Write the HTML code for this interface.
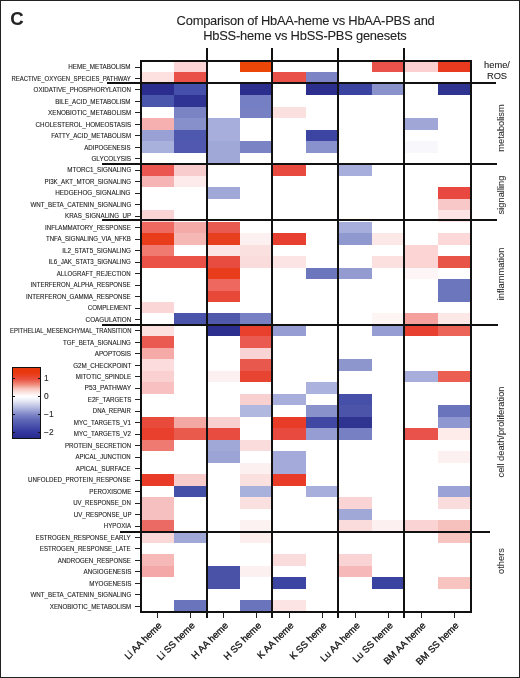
<!DOCTYPE html><html><head><meta charset="utf-8"><style>
html,body{margin:0;padding:0;background:#fff;}
body{width:520px;height:678px;position:relative;overflow:hidden;font-family:"Liberation Sans",sans-serif;color:#222;}
.a{position:absolute;}
.c{position:absolute;}
.l{position:absolute;background:#111;}
.rl{position:absolute;right:389.00px;font-size:6.30px;line-height:6.30px;white-space:nowrap;text-align:right;letter-spacing:0.000px;transform-origin:100% 50%;}
.u{letter-spacing:0.000px;}
.rl,.tx,.sl,.cl{filter:grayscale(1);}
.rl,.sl,.cl,.tx{-webkit-text-stroke:0.10px #222;}
.cl{-webkit-text-stroke:0.30px #111;color:#111}
.sl{-webkit-text-stroke:0.05px #2a2a2a;color:#2a2a2a}
.sl{position:absolute;font-size:9.30px;white-space:nowrap;line-height:1;}
.cl{position:absolute;font-size:9.50px;white-space:nowrap;line-height:1;transform-origin:100% 50%;transform:rotate(-45deg);}
</style></head><body>
<div class="a" style="left:0;top:0;width:518px;height:676px;border:1px solid #222;"></div>
<div class="a tx" style="left:10.30px;top:9.80px;font-size:18.50px;font-weight:bold;line-height:1;">C</div>
<div class="a tx" style="left:176.60px;top:14.60px;font-size:12.90px;line-height:1;letter-spacing:-0.220px;white-space:nowrap">Comparison of HbAA-heme vs HbAA-PBS and</div>
<div class="a tx" style="left:203.20px;top:30.20px;font-size:12.90px;line-height:1;letter-spacing:-0.220px;white-space:nowrap">HbSS-heme vs HbSS-PBS genesets</div>
<div class="c" style="left:174.03px;top:61.00px;width:33.05px;height:11.49px;background:#fcd6d6"></div>
<div class="c" style="left:240.09px;top:61.00px;width:33.05px;height:11.49px;background:#ec4608"></div>
<div class="c" style="left:372.21px;top:61.00px;width:33.05px;height:11.49px;background:#e9524a"></div>
<div class="c" style="left:405.24px;top:61.00px;width:33.05px;height:11.49px;background:#fcd0d0"></div>
<div class="c" style="left:438.27px;top:61.00px;width:33.05px;height:11.49px;background:#e83a1e"></div>
<div class="c" style="left:141.00px;top:72.47px;width:33.05px;height:11.49px;background:#fde0e0"></div>
<div class="c" style="left:174.03px;top:72.47px;width:33.05px;height:11.49px;background:#e85048"></div>
<div class="c" style="left:273.12px;top:72.47px;width:33.05px;height:11.49px;background:#e85048"></div>
<div class="c" style="left:306.15px;top:72.47px;width:33.05px;height:11.49px;background:#7c84c6"></div>
<div class="c" style="left:141.00px;top:83.95px;width:33.05px;height:11.49px;background:#2a2d8e"></div>
<div class="c" style="left:174.03px;top:83.95px;width:33.05px;height:11.49px;background:#4450aa"></div>
<div class="c" style="left:240.09px;top:83.95px;width:33.05px;height:11.49px;background:#2b2e8c"></div>
<div class="c" style="left:306.15px;top:83.95px;width:33.05px;height:11.49px;background:#2c2f8e"></div>
<div class="c" style="left:339.18px;top:83.95px;width:33.05px;height:11.49px;background:#3a44a0"></div>
<div class="c" style="left:372.21px;top:83.95px;width:33.05px;height:11.49px;background:#8a92cc"></div>
<div class="c" style="left:438.27px;top:83.95px;width:33.05px;height:11.49px;background:#2e3490"></div>
<div class="c" style="left:141.00px;top:95.42px;width:33.05px;height:11.49px;background:#4a55ac"></div>
<div class="c" style="left:174.03px;top:95.42px;width:33.05px;height:11.49px;background:#2f3494"></div>
<div class="c" style="left:240.09px;top:95.42px;width:33.05px;height:11.49px;background:#7580c4"></div>
<div class="c" style="left:174.03px;top:106.90px;width:33.05px;height:11.49px;background:#7a84c4"></div>
<div class="c" style="left:240.09px;top:106.90px;width:33.05px;height:11.49px;background:#7680c2"></div>
<div class="c" style="left:273.12px;top:106.90px;width:33.05px;height:11.49px;background:#fbe0e0"></div>
<div class="c" style="left:141.00px;top:118.38px;width:33.05px;height:11.49px;background:#f6b0b0"></div>
<div class="c" style="left:174.03px;top:118.38px;width:33.05px;height:11.49px;background:#8890cc"></div>
<div class="c" style="left:207.06px;top:118.38px;width:33.05px;height:11.49px;background:#a8aedc"></div>
<div class="c" style="left:405.24px;top:118.38px;width:33.05px;height:11.49px;background:#a0a6d6"></div>
<div class="c" style="left:141.00px;top:129.85px;width:33.05px;height:11.49px;background:#98a0d4"></div>
<div class="c" style="left:174.03px;top:129.85px;width:33.05px;height:11.49px;background:#4e58ae"></div>
<div class="c" style="left:207.06px;top:129.85px;width:33.05px;height:11.49px;background:#a8aedc"></div>
<div class="c" style="left:306.15px;top:129.85px;width:33.05px;height:11.49px;background:#3c46a2"></div>
<div class="c" style="left:141.00px;top:141.32px;width:33.05px;height:11.49px;background:#a8b0dc"></div>
<div class="c" style="left:174.03px;top:141.32px;width:33.05px;height:11.49px;background:#5058b0"></div>
<div class="c" style="left:207.06px;top:141.32px;width:33.05px;height:11.49px;background:#a0a8d8"></div>
<div class="c" style="left:240.09px;top:141.32px;width:33.05px;height:11.49px;background:#7a84c4"></div>
<div class="c" style="left:306.15px;top:141.32px;width:33.05px;height:11.49px;background:#8a92ce"></div>
<div class="c" style="left:405.24px;top:141.32px;width:33.05px;height:11.49px;background:#f8f8fc"></div>
<div class="c" style="left:207.06px;top:152.80px;width:33.05px;height:11.49px;background:#a0a8d8"></div>
<div class="c" style="left:141.00px;top:164.27px;width:33.05px;height:11.49px;background:#ec5650"></div>
<div class="c" style="left:174.03px;top:164.27px;width:33.05px;height:11.49px;background:#f8cccc"></div>
<div class="c" style="left:273.12px;top:164.27px;width:33.05px;height:11.49px;background:#e84a40"></div>
<div class="c" style="left:339.18px;top:164.27px;width:33.05px;height:11.49px;background:#a8aedc"></div>
<div class="c" style="left:141.00px;top:175.75px;width:33.05px;height:11.49px;background:#f6b4b4"></div>
<div class="c" style="left:174.03px;top:175.75px;width:33.05px;height:11.49px;background:#fdeaea"></div>
<div class="c" style="left:207.06px;top:187.22px;width:33.05px;height:11.49px;background:#a0a8d8"></div>
<div class="c" style="left:438.27px;top:187.22px;width:33.05px;height:11.49px;background:#e84840"></div>
<div class="c" style="left:438.27px;top:198.70px;width:33.05px;height:11.49px;background:#f8c8c8"></div>
<div class="c" style="left:141.00px;top:210.17px;width:33.05px;height:11.49px;background:#fad4d4"></div>
<div class="c" style="left:438.27px;top:210.17px;width:33.05px;height:11.49px;background:#fde4e4"></div>
<div class="c" style="left:141.00px;top:221.65px;width:33.05px;height:11.49px;background:#ee6a60"></div>
<div class="c" style="left:174.03px;top:221.65px;width:33.05px;height:11.49px;background:#f4aaa6"></div>
<div class="c" style="left:207.06px;top:221.65px;width:33.05px;height:11.49px;background:#e85a50"></div>
<div class="c" style="left:339.18px;top:221.65px;width:33.05px;height:11.49px;background:#a8aedc"></div>
<div class="c" style="left:141.00px;top:233.12px;width:33.05px;height:11.49px;background:#e83c1a"></div>
<div class="c" style="left:174.03px;top:233.12px;width:33.05px;height:11.49px;background:#f6b8b4"></div>
<div class="c" style="left:207.06px;top:233.12px;width:33.05px;height:11.49px;background:#e8401e"></div>
<div class="c" style="left:240.09px;top:233.12px;width:33.05px;height:11.49px;background:#fdf0f0"></div>
<div class="c" style="left:273.12px;top:233.12px;width:33.05px;height:11.49px;background:#e84030"></div>
<div class="c" style="left:339.18px;top:233.12px;width:33.05px;height:11.49px;background:#9098d0"></div>
<div class="c" style="left:372.21px;top:233.12px;width:33.05px;height:11.49px;background:#fde8e8"></div>
<div class="c" style="left:438.27px;top:233.12px;width:33.05px;height:11.49px;background:#fcd8d8"></div>
<div class="c" style="left:141.00px;top:244.60px;width:33.05px;height:11.49px;background:#f07a70"></div>
<div class="c" style="left:207.06px;top:244.60px;width:33.05px;height:11.49px;background:#fce4e4"></div>
<div class="c" style="left:240.09px;top:244.60px;width:33.05px;height:11.49px;background:#fbe0e0"></div>
<div class="c" style="left:405.24px;top:244.60px;width:33.05px;height:11.49px;background:#fcd4d4"></div>
<div class="c" style="left:141.00px;top:256.07px;width:33.05px;height:11.49px;background:#ea5248"></div>
<div class="c" style="left:174.03px;top:256.07px;width:33.05px;height:11.49px;background:#ea5248"></div>
<div class="c" style="left:207.06px;top:256.07px;width:33.05px;height:11.49px;background:#e84c40"></div>
<div class="c" style="left:240.09px;top:256.07px;width:33.05px;height:11.49px;background:#fadcdc"></div>
<div class="c" style="left:273.12px;top:256.07px;width:33.05px;height:11.49px;background:#fce4e4"></div>
<div class="c" style="left:372.21px;top:256.07px;width:33.05px;height:11.49px;background:#fce0e0"></div>
<div class="c" style="left:405.24px;top:256.07px;width:33.05px;height:11.49px;background:#fcd4d4"></div>
<div class="c" style="left:438.27px;top:256.07px;width:33.05px;height:11.49px;background:#e85448"></div>
<div class="c" style="left:207.06px;top:267.55px;width:33.05px;height:11.49px;background:#e83c1a"></div>
<div class="c" style="left:306.15px;top:267.55px;width:33.05px;height:11.49px;background:#6c76bc"></div>
<div class="c" style="left:339.18px;top:267.55px;width:33.05px;height:11.49px;background:#939bd0"></div>
<div class="c" style="left:405.24px;top:267.55px;width:33.05px;height:11.49px;background:#fef6f6"></div>
<div class="c" style="left:207.06px;top:279.02px;width:33.05px;height:11.49px;background:#ee6860"></div>
<div class="c" style="left:438.27px;top:279.02px;width:33.05px;height:11.49px;background:#6c76bc"></div>
<div class="c" style="left:207.06px;top:290.50px;width:33.05px;height:11.49px;background:#e84838"></div>
<div class="c" style="left:438.27px;top:290.50px;width:33.05px;height:11.49px;background:#6c76bc"></div>
<div class="c" style="left:141.00px;top:301.98px;width:33.05px;height:11.49px;background:#fad6d6"></div>
<div class="c" style="left:174.03px;top:313.45px;width:33.05px;height:11.49px;background:#4a54aa"></div>
<div class="c" style="left:207.06px;top:313.45px;width:33.05px;height:11.49px;background:#5058ac"></div>
<div class="c" style="left:240.09px;top:313.45px;width:33.05px;height:11.49px;background:#7880c4"></div>
<div class="c" style="left:372.21px;top:313.45px;width:33.05px;height:11.49px;background:#fdf4f4"></div>
<div class="c" style="left:405.24px;top:313.45px;width:33.05px;height:11.49px;background:#f4a09c"></div>
<div class="c" style="left:438.27px;top:313.45px;width:33.05px;height:11.49px;background:#fde8e8"></div>
<div class="c" style="left:141.00px;top:324.93px;width:33.05px;height:11.49px;background:#fce0e0"></div>
<div class="c" style="left:207.06px;top:324.93px;width:33.05px;height:11.49px;background:#2c2f8e"></div>
<div class="c" style="left:240.09px;top:324.93px;width:33.05px;height:11.49px;background:#e8402c"></div>
<div class="c" style="left:273.12px;top:324.93px;width:33.05px;height:11.49px;background:#959dd2"></div>
<div class="c" style="left:372.21px;top:324.93px;width:33.05px;height:11.49px;background:#959dd2"></div>
<div class="c" style="left:405.24px;top:324.93px;width:33.05px;height:11.49px;background:#e84030"></div>
<div class="c" style="left:438.27px;top:324.93px;width:33.05px;height:11.49px;background:#ec6458"></div>
<div class="c" style="left:141.00px;top:336.40px;width:33.05px;height:11.49px;background:#ea5a50"></div>
<div class="c" style="left:240.09px;top:336.40px;width:33.05px;height:11.49px;background:#ea5a50"></div>
<div class="c" style="left:141.00px;top:347.88px;width:33.05px;height:11.49px;background:#f6aaa8"></div>
<div class="c" style="left:240.09px;top:347.88px;width:33.05px;height:11.49px;background:#f9d4d4"></div>
<div class="c" style="left:141.00px;top:359.35px;width:33.05px;height:11.49px;background:#fcdcdc"></div>
<div class="c" style="left:240.09px;top:359.35px;width:33.05px;height:11.49px;background:#e8584c"></div>
<div class="c" style="left:339.18px;top:359.35px;width:33.05px;height:11.49px;background:#8e96ce"></div>
<div class="c" style="left:141.00px;top:370.82px;width:33.05px;height:11.49px;background:#fad0d0"></div>
<div class="c" style="left:207.06px;top:370.82px;width:33.05px;height:11.49px;background:#fdf0f0"></div>
<div class="c" style="left:240.09px;top:370.82px;width:33.05px;height:11.49px;background:#e84432"></div>
<div class="c" style="left:405.24px;top:370.82px;width:33.05px;height:11.49px;background:#a8aedc"></div>
<div class="c" style="left:438.27px;top:370.82px;width:33.05px;height:11.49px;background:#ec5e52"></div>
<div class="c" style="left:141.00px;top:382.30px;width:33.05px;height:11.49px;background:#f8c0c0"></div>
<div class="c" style="left:306.15px;top:382.30px;width:33.05px;height:11.49px;background:#acb2de"></div>
<div class="c" style="left:240.09px;top:393.77px;width:33.05px;height:11.49px;background:#f8d0d0"></div>
<div class="c" style="left:273.12px;top:393.77px;width:33.05px;height:11.49px;background:#a8aedc"></div>
<div class="c" style="left:339.18px;top:393.77px;width:33.05px;height:11.49px;background:#4650a8"></div>
<div class="c" style="left:240.09px;top:405.25px;width:33.05px;height:11.49px;background:#b0b8e0"></div>
<div class="c" style="left:306.15px;top:405.25px;width:33.05px;height:11.49px;background:#8a92cc"></div>
<div class="c" style="left:339.18px;top:405.25px;width:33.05px;height:11.49px;background:#4c54aa"></div>
<div class="c" style="left:438.27px;top:405.25px;width:33.05px;height:11.49px;background:#6a74bc"></div>
<div class="c" style="left:141.00px;top:416.72px;width:33.05px;height:11.49px;background:#e84a3c"></div>
<div class="c" style="left:174.03px;top:416.72px;width:33.05px;height:11.49px;background:#f4a8a4"></div>
<div class="c" style="left:207.06px;top:416.72px;width:33.05px;height:11.49px;background:#f9d0d0"></div>
<div class="c" style="left:273.12px;top:416.72px;width:33.05px;height:11.49px;background:#e83c28"></div>
<div class="c" style="left:306.15px;top:416.72px;width:33.05px;height:11.49px;background:#4048a4"></div>
<div class="c" style="left:339.18px;top:416.72px;width:33.05px;height:11.49px;background:#2e3490"></div>
<div class="c" style="left:438.27px;top:416.72px;width:33.05px;height:11.49px;background:#8f97d0"></div>
<div class="c" style="left:141.00px;top:428.20px;width:33.05px;height:11.49px;background:#e8402c"></div>
<div class="c" style="left:174.03px;top:428.20px;width:33.05px;height:11.49px;background:#ea5a4c"></div>
<div class="c" style="left:207.06px;top:428.20px;width:33.05px;height:11.49px;background:#e84c40"></div>
<div class="c" style="left:273.12px;top:428.20px;width:33.05px;height:11.49px;background:#e84a40"></div>
<div class="c" style="left:306.15px;top:428.20px;width:33.05px;height:11.49px;background:#959dd2"></div>
<div class="c" style="left:339.18px;top:428.20px;width:33.05px;height:11.49px;background:#7880c4"></div>
<div class="c" style="left:405.24px;top:428.20px;width:33.05px;height:11.49px;background:#e8524a"></div>
<div class="c" style="left:438.27px;top:428.20px;width:33.05px;height:11.49px;background:#fdecea"></div>
<div class="c" style="left:141.00px;top:439.68px;width:33.05px;height:11.49px;background:#ef7a72"></div>
<div class="c" style="left:207.06px;top:439.68px;width:33.05px;height:11.49px;background:#a0a8d8"></div>
<div class="c" style="left:240.09px;top:439.68px;width:33.05px;height:11.49px;background:#fbdcdc"></div>
<div class="c" style="left:207.06px;top:451.15px;width:33.05px;height:11.49px;background:#9ca4d6"></div>
<div class="c" style="left:273.12px;top:451.15px;width:33.05px;height:11.49px;background:#a4aada"></div>
<div class="c" style="left:438.27px;top:451.15px;width:33.05px;height:11.49px;background:#fdf0f0"></div>
<div class="c" style="left:240.09px;top:462.62px;width:33.05px;height:11.49px;background:#fdf0f0"></div>
<div class="c" style="left:273.12px;top:462.62px;width:33.05px;height:11.49px;background:#a4aada"></div>
<div class="c" style="left:141.00px;top:474.10px;width:33.05px;height:11.49px;background:#e83c28"></div>
<div class="c" style="left:174.03px;top:474.10px;width:33.05px;height:11.49px;background:#f9cccc"></div>
<div class="c" style="left:240.09px;top:474.10px;width:33.05px;height:11.49px;background:#fbe0e0"></div>
<div class="c" style="left:273.12px;top:474.10px;width:33.05px;height:11.49px;background:#e83c28"></div>
<div class="c" style="left:174.03px;top:485.57px;width:33.05px;height:11.49px;background:#4450a8"></div>
<div class="c" style="left:240.09px;top:485.57px;width:33.05px;height:11.49px;background:#a8b0dc"></div>
<div class="c" style="left:306.15px;top:485.57px;width:33.05px;height:11.49px;background:#a8aedc"></div>
<div class="c" style="left:438.27px;top:485.57px;width:33.05px;height:11.49px;background:#9aa2d6"></div>
<div class="c" style="left:141.00px;top:497.05px;width:33.05px;height:11.49px;background:#f7c0c0"></div>
<div class="c" style="left:240.09px;top:497.05px;width:33.05px;height:11.49px;background:#fbe0e0"></div>
<div class="c" style="left:339.18px;top:497.05px;width:33.05px;height:11.49px;background:#fad4d4"></div>
<div class="c" style="left:438.27px;top:497.05px;width:33.05px;height:11.49px;background:#fbdcdc"></div>
<div class="c" style="left:141.00px;top:508.52px;width:33.05px;height:11.49px;background:#f7c0c0"></div>
<div class="c" style="left:339.18px;top:508.52px;width:33.05px;height:11.49px;background:#a0a8d8"></div>
<div class="c" style="left:141.00px;top:520.00px;width:33.05px;height:11.49px;background:#ec6a64"></div>
<div class="c" style="left:240.09px;top:520.00px;width:33.05px;height:11.49px;background:#fdf2f2"></div>
<div class="c" style="left:339.18px;top:520.00px;width:33.05px;height:11.49px;background:#fbdcdc"></div>
<div class="c" style="left:372.21px;top:520.00px;width:33.05px;height:11.49px;background:#fdf0f0"></div>
<div class="c" style="left:405.24px;top:520.00px;width:33.05px;height:11.49px;background:#fad4d4"></div>
<div class="c" style="left:438.27px;top:520.00px;width:33.05px;height:11.49px;background:#f6c0bc"></div>
<div class="c" style="left:141.00px;top:531.47px;width:33.05px;height:11.49px;background:#fbd8d8"></div>
<div class="c" style="left:174.03px;top:531.47px;width:33.05px;height:11.49px;background:#a0a8d8"></div>
<div class="c" style="left:240.09px;top:531.47px;width:33.05px;height:11.49px;background:#fdeeee"></div>
<div class="c" style="left:438.27px;top:531.47px;width:33.05px;height:11.49px;background:#f8c4c0"></div>
<div class="c" style="left:141.00px;top:554.42px;width:33.05px;height:11.49px;background:#f7b8b8"></div>
<div class="c" style="left:273.12px;top:554.42px;width:33.05px;height:11.49px;background:#fbdcdc"></div>
<div class="c" style="left:339.18px;top:554.42px;width:33.05px;height:11.49px;background:#fad4d4"></div>
<div class="c" style="left:141.00px;top:565.90px;width:33.05px;height:11.49px;background:#f4a8a8"></div>
<div class="c" style="left:207.06px;top:565.90px;width:33.05px;height:11.49px;background:#4a52a8"></div>
<div class="c" style="left:240.09px;top:565.90px;width:33.05px;height:11.49px;background:#fdf0f0"></div>
<div class="c" style="left:339.18px;top:565.90px;width:33.05px;height:11.49px;background:#f6b8b8"></div>
<div class="c" style="left:207.06px;top:577.38px;width:33.05px;height:11.49px;background:#4a52a8"></div>
<div class="c" style="left:273.12px;top:577.38px;width:33.05px;height:11.49px;background:#3c46a2"></div>
<div class="c" style="left:372.21px;top:577.38px;width:33.05px;height:11.49px;background:#3a44a0"></div>
<div class="c" style="left:438.27px;top:577.38px;width:33.05px;height:11.49px;background:#f8c4c0"></div>
<div class="c" style="left:174.03px;top:600.32px;width:33.05px;height:11.49px;background:#6a74bc"></div>
<div class="c" style="left:240.09px;top:600.32px;width:33.05px;height:11.49px;background:#6a74bc"></div>
<div class="c" style="left:273.12px;top:600.32px;width:33.05px;height:11.49px;background:#fce4e4"></div>
<div class="l" style="left:140.00px;top:60.00px;width:332.30px;height:2.00px"></div>
<div class="l" style="left:140.00px;top:610.80px;width:332.30px;height:2.00px"></div>
<div class="l" style="left:140.00px;top:60.00px;width:2.00px;height:552.80px"></div>
<div class="l" style="left:470.30px;top:60.00px;width:2.00px;height:552.80px"></div>
<div class="l" style="left:206.10px;top:48.20px;width:2.00px;height:570.10px"></div>
<div class="l" style="left:271.10px;top:48.20px;width:2.00px;height:570.10px"></div>
<div class="l" style="left:336.80px;top:48.20px;width:2.00px;height:570.10px"></div>
<div class="l" style="left:402.80px;top:48.20px;width:2.00px;height:570.10px"></div>
<div class="l" style="left:107.30px;top:82.20px;width:388.70px;height:2.00px"></div>
<div class="l" style="left:101.50px;top:163.00px;width:395.50px;height:2.00px"></div>
<div class="l" style="left:101.60px;top:219.20px;width:395.40px;height:2.00px"></div>
<div class="l" style="left:101.60px;top:323.50px;width:396.10px;height:2.00px"></div>
<div class="l" style="left:119.90px;top:530.60px;width:370.60px;height:2.00px"></div>
<div class="l" style="left:135.00px;top:67px;width:5.00px;height:1px;background:#222"></div>
<div class="rl" style="top:64.19px;transform:scaleX(0.9968)">HEME_METABOLISM</div>
<div class="l" style="left:135.00px;top:78px;width:5.00px;height:1px;background:#222"></div>
<div class="rl" style="top:75.66px;transform:scaleX(0.9492)">REACTIVE_OXYGEN_SPECIES_PATHWAY</div>
<div class="l" style="left:135.00px;top:89px;width:5.00px;height:1px;background:#222"></div>
<div class="rl" style="top:87.14px;transform:scaleX(0.9839)">OXIDATIVE_PHOSPHORYLATION</div>
<div class="l" style="left:135.00px;top:101px;width:5.00px;height:1px;background:#222"></div>
<div class="rl" style="top:98.61px;transform:scaleX(0.9842)">BILE_ACID_METABOLISM</div>
<div class="l" style="left:135.00px;top:112px;width:5.00px;height:1px;background:#222"></div>
<div class="rl" style="top:110.09px;transform:scaleX(1.0001)">XENOBIOTIC_METABOLISM</div>
<div class="l" style="left:135.00px;top:124px;width:5.00px;height:1px;background:#222"></div>
<div class="rl" style="top:121.56px;transform:scaleX(0.9938)">CHOLESTEROL_HOMEOSTASIS</div>
<div class="l" style="left:135.00px;top:135px;width:5.00px;height:1px;background:#222"></div>
<div class="rl" style="top:133.04px;transform:scaleX(0.9732)">FATTY_ACID_METABOLISM</div>
<div class="l" style="left:135.00px;top:147px;width:5.00px;height:1px;background:#222"></div>
<div class="rl" style="top:144.51px;transform:scaleX(0.9751)">ADIPOGENESIS</div>
<div class="l" style="left:135.00px;top:158px;width:5.00px;height:1px;background:#222"></div>
<div class="rl" style="top:155.99px;transform:scaleX(1.0154)">GLYCOLYSIS</div>
<div class="l" style="left:135.00px;top:170px;width:5.00px;height:1px;background:#222"></div>
<div class="rl" style="top:167.46px;transform:scaleX(0.9968)">MTORC1_SIGNALING</div>
<div class="l" style="left:135.00px;top:181px;width:5.00px;height:1px;background:#222"></div>
<div class="rl" style="top:178.94px;transform:scaleX(0.9731)">PI3K_AKT_MTOR_SIGNALING</div>
<div class="l" style="left:135.00px;top:193px;width:5.00px;height:1px;background:#222"></div>
<div class="rl" style="top:190.41px;transform:scaleX(1.0109)">HEDGEHOG_SIGNALING</div>
<div class="l" style="left:135.00px;top:204px;width:5.00px;height:1px;background:#222"></div>
<div class="rl" style="top:201.89px;transform:scaleX(0.9862)">WNT_BETA_CATENIN_SIGNALING</div>
<div class="l" style="left:135.00px;top:216px;width:5.00px;height:1px;background:#222"></div>
<div class="rl" style="top:213.36px;transform:scaleX(0.9851)">KRAS_SIGNALING_UP</div>
<div class="l" style="left:135.00px;top:227px;width:5.00px;height:1px;background:#222"></div>
<div class="rl" style="top:224.84px;transform:scaleX(0.9773)">INFLAMMATORY_RESPONSE</div>
<div class="l" style="left:135.00px;top:239px;width:5.00px;height:1px;background:#222"></div>
<div class="rl" style="top:236.31px;transform:scaleX(0.9659)">TNFA_SIGNALING_VIA_NFKB</div>
<div class="l" style="left:135.00px;top:250px;width:5.00px;height:1px;background:#222"></div>
<div class="rl" style="top:247.79px;transform:scaleX(1.0000)">IL2_STAT5_SIGNALING</div>
<div class="l" style="left:135.00px;top:262px;width:5.00px;height:1px;background:#222"></div>
<div class="rl" style="top:259.26px;transform:scaleX(0.9807)">IL6_JAK_STAT3_SIGNALING</div>
<div class="l" style="left:135.00px;top:273px;width:5.00px;height:1px;background:#222"></div>
<div class="rl" style="top:270.74px;transform:scaleX(0.9632)">ALLOGRAFT_REJECTION</div>
<div class="l" style="left:135.00px;top:285px;width:5.00px;height:1px;background:#222"></div>
<div class="rl" style="top:282.21px;transform:scaleX(0.9651)">INTERFERON_ALPHA_RESPONSE</div>
<div class="l" style="left:135.00px;top:296px;width:5.00px;height:1px;background:#222"></div>
<div class="rl" style="top:293.69px;transform:scaleX(0.9811)">INTERFERON_GAMMA_RESPONSE</div>
<div class="l" style="left:135.00px;top:308px;width:5.00px;height:1px;background:#222"></div>
<div class="rl" style="top:305.16px;transform:scaleX(0.9818)">COMPLEMENT</div>
<div class="l" style="left:135.00px;top:319px;width:5.00px;height:1px;background:#222"></div>
<div class="rl" style="top:316.64px;transform:scaleX(1.0090)">COAGULATION</div>
<div class="l" style="left:135.00px;top:330px;width:5.00px;height:1px;background:#222"></div>
<div class="rl" style="top:328.11px;transform:scaleX(0.9380)">EPITHELIAL_MESENCHYMAL_TRANSITION</div>
<div class="l" style="left:135.00px;top:342px;width:5.00px;height:1px;background:#222"></div>
<div class="rl" style="top:339.59px;transform:scaleX(0.9714)">TGF_BETA_SIGNALING</div>
<div class="l" style="left:135.00px;top:353px;width:5.00px;height:1px;background:#222"></div>
<div class="rl" style="top:351.06px;transform:scaleX(1.0000)">APOPTOSIS</div>
<div class="l" style="left:135.00px;top:365px;width:5.00px;height:1px;background:#222"></div>
<div class="rl" style="top:362.54px;transform:scaleX(0.9966)">G2M_CHECKPOINT</div>
<div class="l" style="left:135.00px;top:376px;width:5.00px;height:1px;background:#222"></div>
<div class="rl" style="top:374.01px;transform:scaleX(0.9858)">MITOTIC_SPINDLE</div>
<div class="l" style="left:135.00px;top:388px;width:5.00px;height:1px;background:#222"></div>
<div class="rl" style="top:385.49px;transform:scaleX(1.0548)">P53_PATHWAY</div>
<div class="l" style="left:135.00px;top:399px;width:5.00px;height:1px;background:#222"></div>
<div class="rl" style="top:396.96px;transform:scaleX(0.9820)">E2F_TARGETS</div>
<div class="l" style="left:135.00px;top:411px;width:5.00px;height:1px;background:#222"></div>
<div class="rl" style="top:408.44px;transform:scaleX(0.9550)">DNA_REPAIR</div>
<div class="l" style="left:135.00px;top:422px;width:5.00px;height:1px;background:#222"></div>
<div class="rl" style="top:419.91px;transform:scaleX(0.9864)">MYC_TARGETS_V1</div>
<div class="l" style="left:135.00px;top:434px;width:5.00px;height:1px;background:#222"></div>
<div class="rl" style="top:431.39px;transform:scaleX(0.9864)">MYC_TARGETS_V2</div>
<div class="l" style="left:135.00px;top:445px;width:5.00px;height:1px;background:#222"></div>
<div class="rl" style="top:442.86px;transform:scaleX(0.9706)">PROTEIN_SECRETION</div>
<div class="l" style="left:135.00px;top:457px;width:5.00px;height:1px;background:#222"></div>
<div class="rl" style="top:454.34px;transform:scaleX(0.9586)">APICAL_JUNCTION</div>
<div class="l" style="left:135.00px;top:468px;width:5.00px;height:1px;background:#222"></div>
<div class="rl" style="top:465.81px;transform:scaleX(0.9854)">APICAL_SURFACE</div>
<div class="l" style="left:135.00px;top:480px;width:5.00px;height:1px;background:#222"></div>
<div class="rl" style="top:477.29px;transform:scaleX(0.9808)">UNFOLDED_PROTEIN_RESPONSE</div>
<div class="l" style="left:135.00px;top:491px;width:5.00px;height:1px;background:#222"></div>
<div class="rl" style="top:488.76px;transform:scaleX(0.9953)">PEROXISOME</div>
<div class="l" style="left:135.00px;top:503px;width:5.00px;height:1px;background:#222"></div>
<div class="rl" style="top:500.24px;transform:scaleX(0.9633)">UV_RESPONSE_DN</div>
<div class="l" style="left:135.00px;top:514px;width:5.00px;height:1px;background:#222"></div>
<div class="rl" style="top:511.71px;transform:scaleX(0.9695)">UV_RESPONSE_UP</div>
<div class="l" style="left:135.00px;top:526px;width:5.00px;height:1px;background:#222"></div>
<div class="rl" style="top:523.19px;transform:scaleX(0.9715)">HYPOXIA</div>
<div class="l" style="left:135.00px;top:537px;width:5.00px;height:1px;background:#222"></div>
<div class="rl" style="top:534.66px;transform:scaleX(0.9732)">ESTROGEN_RESPONSE_EARLY</div>
<div class="l" style="left:135.00px;top:548px;width:5.00px;height:1px;background:#222"></div>
<div class="rl" style="top:546.14px;transform:scaleX(0.9804)">ESTROGEN_RESPONSE_LATE</div>
<div class="l" style="left:135.00px;top:560px;width:5.00px;height:1px;background:#222"></div>
<div class="rl" style="top:557.61px;transform:scaleX(0.9760)">ANDROGEN_RESPONSE</div>
<div class="l" style="left:135.00px;top:571px;width:5.00px;height:1px;background:#222"></div>
<div class="rl" style="top:569.09px;transform:scaleX(0.9875)">ANGIOGENESIS</div>
<div class="l" style="left:135.00px;top:583px;width:5.00px;height:1px;background:#222"></div>
<div class="rl" style="top:580.56px;transform:scaleX(0.9952)">MYOGENESIS</div>
<div class="l" style="left:135.00px;top:594px;width:5.00px;height:1px;background:#222"></div>
<div class="rl" style="top:592.04px;transform:scaleX(0.9862)">WNT_BETA_CATENIN_SIGNALING</div>
<div class="l" style="left:135.00px;top:606px;width:5.00px;height:1px;background:#222"></div>
<div class="rl" style="top:603.51px;transform:scaleX(0.9783)">XENOBIOTIC_METABOLISM</div>
<div class="l" style="left:157px;top:612.80px;width:1px;height:5.00px;background:#222"></div>
<div class="cl" style="right:359.88px;top:619.40px">Li AA heme</div>
<div class="l" style="left:190px;top:612.80px;width:1px;height:5.00px;background:#222"></div>
<div class="cl" style="right:326.86px;top:619.40px">Li SS heme</div>
<div class="l" style="left:223px;top:612.80px;width:1px;height:5.00px;background:#222"></div>
<div class="cl" style="right:293.83px;top:619.40px">H AA heme</div>
<div class="l" style="left:256px;top:612.80px;width:1px;height:5.00px;background:#222"></div>
<div class="cl" style="right:260.79px;top:619.40px">H SS heme</div>
<div class="l" style="left:289px;top:612.80px;width:1px;height:5.00px;background:#222"></div>
<div class="cl" style="right:227.76px;top:619.40px">K AA heme</div>
<div class="l" style="left:322px;top:612.80px;width:1px;height:5.00px;background:#222"></div>
<div class="cl" style="right:194.73px;top:619.40px">K SS heme</div>
<div class="l" style="left:355px;top:612.80px;width:1px;height:5.00px;background:#222"></div>
<div class="cl" style="right:161.70px;top:619.40px">Lu AA heme</div>
<div class="l" style="left:388px;top:612.80px;width:1px;height:5.00px;background:#222"></div>
<div class="cl" style="right:128.67px;top:619.40px">Lu SS heme</div>
<div class="l" style="left:421px;top:612.80px;width:1px;height:5.00px;background:#222"></div>
<div class="cl" style="right:95.64px;top:619.40px">BM AA heme</div>
<div class="l" style="left:454px;top:612.80px;width:1px;height:5.00px;background:#222"></div>
<div class="cl" style="right:62.61px;top:619.40px">BM SS heme</div>
<div class="a tx" style="left:497.00px;top:60.63px;width:30px;margin-left:-15px;text-align:center;font-size:9.30px;line-height:1">heme/</div>
<div class="a tx" style="left:497.00px;top:72.43px;width:30px;margin-left:-15px;text-align:center;font-size:9.30px;line-height:1">ROS</div>
<div class="sl" style="left:501.80px;top:128.00px;transform:translate(-50%,-50%) rotate(-90deg);">metabolism</div>
<div class="sl" style="left:501.80px;top:195.00px;transform:translate(-50%,-50%) rotate(-90deg);">signalling</div>
<div class="sl" style="left:501.80px;top:274.40px;transform:translate(-50%,-50%) rotate(-90deg);">inflammation</div>
<div class="sl" style="left:501.80px;top:432.00px;transform:translate(-50%,-50%) rotate(-90deg);">cell death/proliferation</div>
<div class="sl" style="left:501.80px;top:561.40px;transform:translate(-50%,-50%) rotate(-90deg);">others</div>
<div class="a" style="left:11.50px;top:366.80px;width:29.20px;height:72.50px;box-sizing:border-box;border:1.40px solid #111;background:linear-gradient(to bottom,#e8360c 0%, #e8380e 7%, #e95040 16%, #f09080 24%, #f8c8c0 30%, #fce8e4 35.5%, #ffffff 40.5%, #eceef6 46%, #c8cce8 53%, #a8aeda 59%, #8088c8 66%, #6068b8 74%, #4850aa 83%, #3438a0 91%, #282a8c 100%)"></div>
<div class="l" style="left:11.50px;top:378.30px;width:3.00px;height:1.20px"></div>
<div class="l" style="left:37.70px;top:378.30px;width:3.00px;height:1.20px"></div>
<div class="a tx" style="left:44.00px;top:374.20px;font-size:8.40px;line-height:1;">1</div>
<div class="l" style="left:11.50px;top:396.10px;width:3.00px;height:1.20px"></div>
<div class="l" style="left:37.70px;top:396.10px;width:3.00px;height:1.20px"></div>
<div class="a tx" style="left:44.00px;top:392.00px;font-size:8.40px;line-height:1;">0</div>
<div class="l" style="left:11.50px;top:413.80px;width:3.00px;height:1.20px"></div>
<div class="l" style="left:37.70px;top:413.80px;width:3.00px;height:1.20px"></div>
<div class="a tx" style="left:44.00px;top:409.70px;font-size:8.40px;line-height:1;">−1</div>
<div class="l" style="left:11.50px;top:431.80px;width:3.00px;height:1.20px"></div>
<div class="l" style="left:37.70px;top:431.80px;width:3.00px;height:1.20px"></div>
<div class="a tx" style="left:44.00px;top:427.70px;font-size:8.40px;line-height:1;">−2</div>
</body></html>
